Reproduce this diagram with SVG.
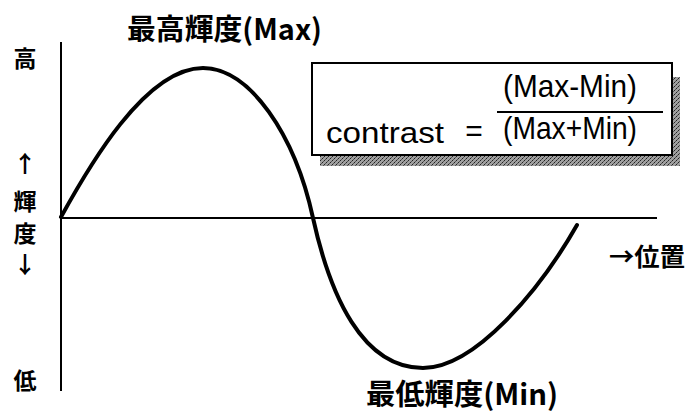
<svg xmlns="http://www.w3.org/2000/svg" width="686" height="412" viewBox="0 0 686 412">
<style>
.cjk{font-family:"Noto Sans CJK JP","Noto Sans CJK SC",sans-serif;font-weight:bold;fill:#000}
.lat{font-family:"Liberation Sans",Arial,sans-serif;fill:#000}
.axis{stroke:#000;stroke-width:2;fill:none}
.curve{stroke:#000;stroke-width:4;fill:none;stroke-linecap:round;stroke-linejoin:round}
</style>
<defs>
<pattern id="hatch" width="4" height="4" patternUnits="userSpaceOnUse">
<rect width="4" height="4" fill="#a0a0a0"/>
<rect x="0" y="0" width="1" height="1" fill="#222"/>
<rect x="2" y="2" width="1" height="1" fill="#222"/>
<rect x="3" y="1" width="1" height="1" fill="#555"/>
<rect x="1" y="3" width="1" height="1" fill="#555"/>
</pattern>
</defs>
<rect width="686" height="412" fill="#fff"/>
<g id="connectors">
<line class="axis" x1="61" y1="42" x2="61" y2="391"/>
<line class="axis" x1="61" y1="218" x2="657" y2="218"/>
<path class="curve" d="M61,217 C88,168 145,68 203,68 C250,68 295,135 313,218 C330,295 362,368 423,368 C475,368 540,290 577,225"/>
</g>
<g id="title-max">
<text class="cjk" x="127" y="40" font-size="29" textLength="195" lengthAdjust="spacingAndGlyphs">最高輝度(Max)</text>
</g>
<g id="title-min">
<text class="cjk" x="366" y="405" font-size="29" textLength="192" lengthAdjust="spacingAndGlyphs">最低輝度(Min)</text>
</g>
<g id="y-labels" class="cjk" font-size="23" text-anchor="middle">
<text x="25" y="67">高</text>
<text x="25" y="172">↑</text>
<text x="25" y="210">輝</text>
<text x="25" y="242">度</text>
<text x="25" y="273">↓</text>
<text x="25" y="389">低</text>
</g>
<g id="x-label">
<text class="cjk" x="609" y="266" font-size="25" textLength="76" lengthAdjust="spacingAndGlyphs">→位置</text>
</g>
<g id="formula">
<rect x="320" y="156" width="360" height="10" fill="url(#hatch)"/>
<rect x="672" y="77" width="8" height="89" fill="url(#hatch)"/>
<rect x="312" y="63" width="360" height="92" fill="#fff" stroke="#000" stroke-width="2"/>
<text class="lat" x="326" y="143" font-size="30" textLength="118" lengthAdjust="spacingAndGlyphs">contrast</text>
<text class="lat" x="474" y="141" font-size="30" text-anchor="middle">=</text>
<line x1="497" y1="112" x2="663" y2="112" stroke="#000" stroke-width="2"/>
<text class="lat" x="503" y="97" font-size="32" textLength="134" lengthAdjust="spacingAndGlyphs">(Max-Min)</text>
<text class="lat" x="503" y="139" font-size="32" textLength="134" lengthAdjust="spacingAndGlyphs">(Max+Min)</text>
</g>
</svg>
